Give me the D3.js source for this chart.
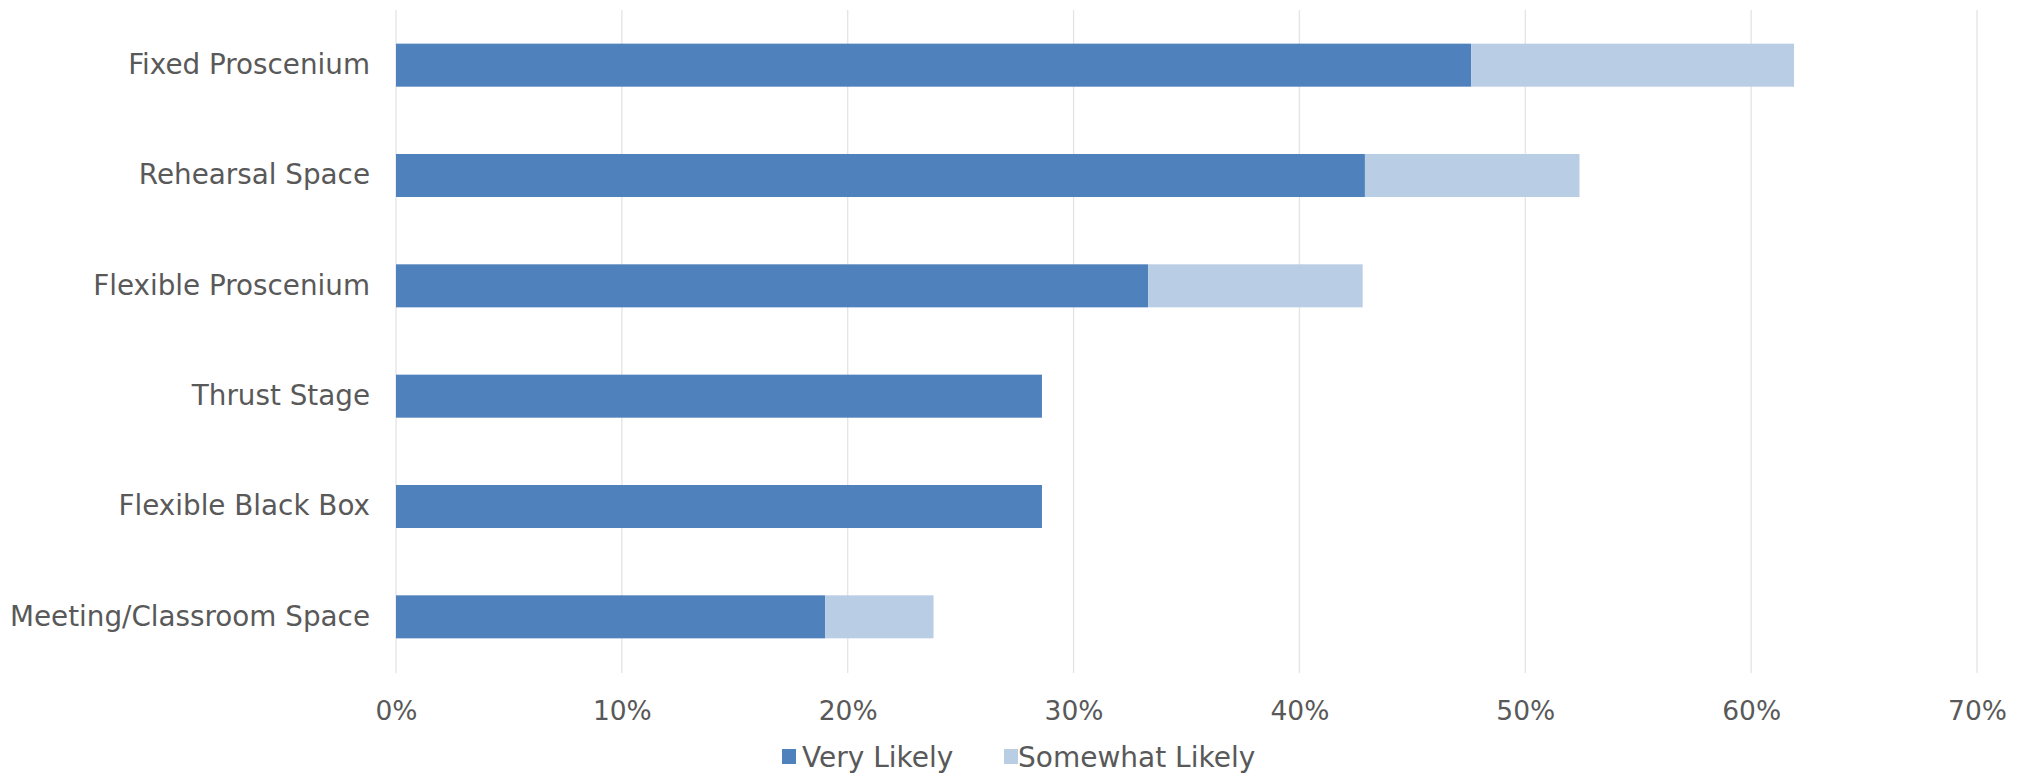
<!DOCTYPE html>
<html>
<head>
<meta charset="utf-8">
<script src="https://cdn.jsdelivr.net/npm/d3@7"></script>
<style>
  html, body { margin: 0; padding: 0; background: #fff; }
  svg { display: block; font-family: "DejaVu Sans", Verdana, sans-serif; }
</style>
</head>
<body>
<svg id="chart" width="2023" height="773"></svg>
<script>
const categories = ["Fixed Proscenium", "Rehearsal Space", "Flexible Proscenium", "Thrust Stage", "Flexible Black Box", "Meeting/Classroom Space"];
const veryLikely = [0.476, 0.429, 0.333, 0.286, 0.286, 0.190];
const somewhatLikely = [0.143, 0.095, 0.095, 0.0, 0.0, 0.048];
const seriesNames = ["Very Likely", "Somewhat Likely"];
const seriesColors = ["#4F81BD", "#B9CDE5"];
const xTicks = [0, 0.1, 0.2, 0.3, 0.4, 0.5, 0.6, 0.7];

(function () {
const svg = d3.select("#chart");
const mLeft = 396, mRight = 1977, mTop = 10, mBottom = 672;

const x = d3.scaleLinear().domain([0, 0.7]).range([mLeft, mRight]);
const y = d3.scaleBand().domain(categories).range([mTop, mBottom]).paddingInner(0.61).paddingOuter(0.305);

// gridlines
svg.append("g").selectAll("line").data(xTicks).join("line")
  .attr("x1", d => x(d)).attr("x2", d => x(d))
  .attr("y1", 10).attr("y2", 673)
  .attr("stroke", "#E4E4E4").attr("stroke-width", 1.3);

// stacked bars
const rows = categories.map((c, i) => ({ c, v: [veryLikely[i], somewhatLikely[i]] }));
const stack = d3.stack().keys([0, 1]).value((d, k) => d.v[k]);
const stacked = stack(rows);
svg.append("g").selectAll("g").data(stacked).join("g")
  .attr("fill", (d, i) => seriesColors[i])
  .selectAll("rect").data(d => d).join("rect")
  .attr("x", d => x(d[0]))
  .attr("width", d => Math.max(0, x(d[1]) - x(d[0])))
  .attr("y", d => y(d.data.c))
  .attr("height", y.bandwidth());

// y axis labels
const yAxis = d3.axisLeft(y).tickSize(0).tickPadding(26);
const gy = svg.append("g").attr("transform", `translate(${mLeft},0)`).call(yAxis);
gy.select(".domain").remove();
gy.selectAll("text").attr("font-size", 27.8).attr("fill", "#595959")
  .attr("font-family", "DejaVu Sans, Verdana, sans-serif");

// x axis labels
const xAxis = d3.axisBottom(x).tickValues(xTicks).tickFormat(d3.format(".0%")).tickSize(0).tickPadding(0);
const gx = svg.append("g").attr("transform", `translate(0,711)`).call(xAxis);
gx.select(".domain").remove();
gx.selectAll("text").attr("font-size", 26.5).attr("fill", "#595959")
  .attr("dy", "0.35em")
  .attr("font-family", "DejaVu Sans, Verdana, sans-serif");

// legend
const legendX = [782, 1004];
const textX = [802, 1018];
const lg = svg.append("g");
seriesNames.forEach((n, i) => {
  lg.append("rect").attr("x", legendX[i]).attr("y", 749).attr("width", 14).attr("height", 15).attr("fill", seriesColors[i]);
  lg.append("text").attr("x", textX[i]).attr("y", 757).attr("dy", "0.35em")
    .attr("font-size", 28).attr("fill", "#595959").text(n);
});
})();
</script>
</body>
</html>
